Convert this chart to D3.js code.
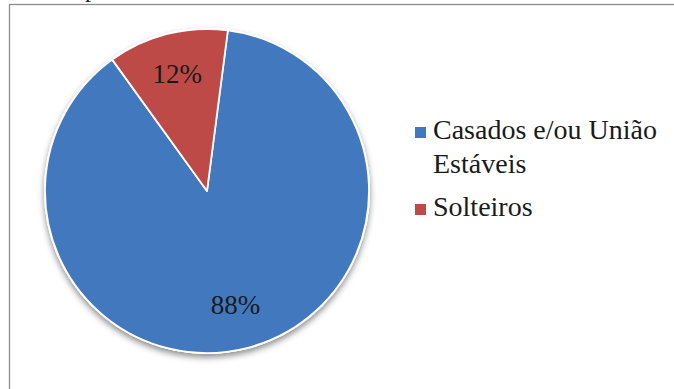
<!DOCTYPE html>
<html>
<head>
<meta charset="utf-8">
<script src="https://cdn.jsdelivr.net/npm/d3@7"></script>
</head>
<body style="margin:0;background:#fff">
<svg id="chart" width="674" height="389" style="display:block;font-family:'Liberation Serif'"></svg>
<script>
// Marital status distribution
const categories = ["Casados e/ou União Estáveis", "Solteiros"];
const values = [88, 12];
const percentLabels = ["88%", "12%"];
const colors = ["#4279be", "#be4a47"];
const legendLines = [["Casados e/ou União", "Estáveis"], ["Solteiros"]];

const FONT = '"Liberation Serif"';
const svg = d3.select("#chart");
const W = 674, H = 389;

// frame of the chart area (continues past the visible region)
svg.append("rect")
  .attr("x", 9.5).attr("y", 4.5)
  .attr("width", W + 10).attr("height", H + 10)
  .attr("fill", "none")
  .attr("stroke", "#8c8c8c")
  .attr("stroke-width", 1.3);

const defs = svg.append("defs");
const shadow = defs.append("filter")
  .attr("id", "pieShadow")
  .attr("x", "-20%").attr("y", "-20%")
  .attr("width", "140%").attr("height", "140%");
shadow.append("feDropShadow")
  .attr("dx", 0).attr("dy", 3.5)
  .attr("stdDeviation", 3)
  .attr("flood-color", "#000")
  .attr("flood-opacity", 0.45);

const cx = 207, cy = 191, r = 162;
const startDeg = 7.4;

const pie = d3.pie()
  .sort(null)
  .value(d => d)
  .startAngle(startDeg * Math.PI / 180)
  .endAngle((startDeg + 360) * Math.PI / 180);

const arcs = pie(values);
const arc = d3.arc().innerRadius(0).outerRadius(r);

const g = svg.append("g").attr("transform", `translate(${cx},${cy})`);

// shadowed disc under the slices
g.append("circle")
  .attr("r", r + 1)
  .attr("fill", "#fff")
  .attr("filter", "url(#pieShadow)");

g.selectAll("path.slice")
  .data(arcs)
  .join("path")
  .attr("class", "slice")
  .attr("d", arc)
  .attr("fill", (d, i) => colors[i])
  .attr("stroke", "#fff")
  .attr("stroke-width", 1.8)
  .attr("stroke-linejoin", "round");

// value labels inside the slices
const labelRadius = [0.72, 0.75];
g.selectAll("text.pct")
  .data(arcs)
  .join("text")
  .attr("class", "pct")
  .attr("transform", (d, i) => {
    const a = d3.arc().innerRadius(r * labelRadius[i]).outerRadius(r * labelRadius[i]);
    const [x, y] = a.centroid(d);
    return `translate(${x},${y})`;
  })
  .attr("text-anchor", "middle")
  .attr("dy", "0.35em")
  .style("font-family", FONT)
  .style("font-size", "27px")
  .style("fill", "#1a1a1a")
  .text((d, i) => percentLabels[i]);

// legend
const legend = svg.append("g");
const legendY = [139, 216];
categories.forEach((c, i) => {
  const row = legend.append("g");
  row.append("rect")
    .attr("x", 415).attr("y", legendY[i] - 12)
    .attr("width", 11).attr("height", 11)
    .attr("fill", colors[i]);
  const t = row.append("text")
    .attr("x", 433).attr("y", legendY[i])
    .style("font-family", FONT)
    .style("font-size", "28px")
    .style("fill", "#1a1a1a");
  legendLines[i].forEach((line, j) => {
    t.append("tspan").attr("x", 433).attr("dy", j === 0 ? 0 : 33.5).text(line);
  });
});

// fragment of the caption line above the frame
svg.append("text")
  .attr("x", 85).attr("y", -3.5)
  .style("font-family", FONT)
  .style("font-size", "24px")
  .style("fill", "#222")
  .text("p");
</script>
</body>
</html>
